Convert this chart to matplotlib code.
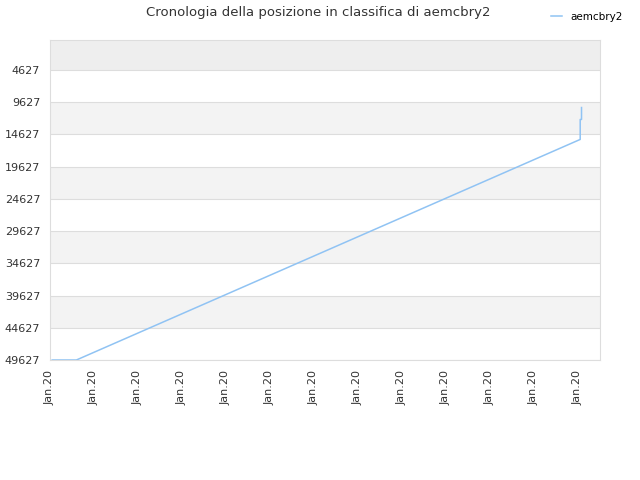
import matplotlib.pyplot as plt

# rank history (lower is better), x in tick units
positions = [0.05, 0.6, 12.05, 12.05, 12.08, 12.08]
ranks = [49627, 49627, 15400, 12300, 12300, 10450]
tick_values = [4627, 9627, 14627, 19627, 24627, 29627, 34627, 39627, 44627, 49627]
date_labels = ["Jan.20"] * 13

fig = plt.figure(figsize=(6.4, 4.8), dpi=100)
ax = fig.add_axes([50 / 640, 120 / 480, 550 / 640, 320 / 480])

y_top = -30
y_bottom = 49627

# alternating background bands
ax.axhspan(y_top, 4627, color="#eeeeee", zorder=0, lw=0)
for lo in [9627, 19627, 29627, 39627]:
    ax.axhspan(lo, lo + 5000, color="#f3f3f3", zorder=0, lw=0)

ax.plot(positions, ranks, color="#90c3f3", lw=1.1, label="aemcbry2", zorder=3)

ax.set_ylim(y_bottom, y_top)
ax.set_xlim(0, 12.5)
ax.set_yticks(tick_values)
ax.set_yticklabels([str(v) for v in tick_values], fontsize=8, color="#333333")
ax.set_xticks(range(len(date_labels)))
ax.set_xticklabels(date_labels, rotation=90, fontsize=8, color="#333333")
ax.tick_params(length=0, pad=7)
ax.grid(axis="y", color="#dddddd", lw=0.8, zorder=1)
for s in ax.spines.values():
    s.set_color("#dddddd")

fig.text(318 / 640, 1 - 12.5 / 480, "Cronologia della posizione in classifica di aemcbry2",
         ha="center", va="center", fontsize=9.5, color="#333333")
fig.legend(loc="upper right", bbox_to_anchor=(0.987, 0.995), frameon=False, fontsize=7.5,
           handlelength=1.0, handletextpad=0.8)

fig.savefig("out.png")
